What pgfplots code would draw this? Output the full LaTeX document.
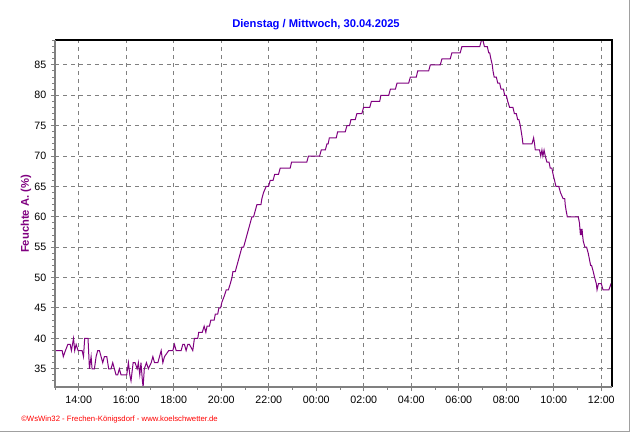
\documentclass[border=0pt]{standalone}
\usepackage{pgfplots}
\pgfplotsset{compat=1.18}
\usepackage{fontspec}
\setmainfont{Liberation Sans}
\definecolor{wspurple}{RGB}{128,0,128}
\definecolor{wsgray}{RGB}{128,128,128}
\definecolor{wsblue}{RGB}{0,0,255}
\definecolor{wsred}{RGB}{255,0,0}
\begin{document}
\begin{tikzpicture}
\path[use as bounding box] (0,0) rectangle (474pt,330pt);
\fill[white] (0,0) rectangle (474pt,330pt);
\begin{axis}[
  at={(41.25pt,39.75pt)}, anchor=south west,
  scale only axis, width=417.75pt, height=260.25pt,
  xmin=13, xmax=36.45, ymin=32, ymax=89.1,
  axis line style={draw=none},
  clip=false,
  xtick={14,16,...,36},
  xticklabels={14:00,16:00,18:00,20:00,22:00,00:00,02:00,04:00,06:00,08:00,10:00,12:00},
  minor xtick={13,15,...,35},
  ytick={35,40,...,85},
  minor ytick={33,34,...,89},
  tick align=outside, tick pos=left,
  major tick length=3pt, minor tick length=2pt,
  every tick/.style={wsgray, line width=0.75pt},
  xmajorgrids, ymajorgrids,
  major grid style={wsgray, line width=0.75pt, dash pattern=on 3pt off 3pt},
  tick label style={font=\fontsize{8}{9.6}\selectfont},
  /pgf/number format/assume math mode=true,
]
\addplot[wspurple, line width=0.75pt] coordinates {
(13.00,38) (13.30,38) (13.35,37) (13.44,38) (13.54,39) (13.64,39) (13.69,38) (13.78,40) (13.83,38) (13.89,39) (13.97,38) (14.06,38) (14.14,38) (14.20,37) (14.25,40) (14.39,40) (14.45,35) (14.52,37) (14.56,35) (14.66,35) (14.73,37) (14.80,38) (14.87,38) (14.94,37) (15.01,36) (15.08,37) (15.18,37) (15.26,35) (15.36,35) (15.43,36) (15.50,35) (15.57,34) (15.64,34) (15.71,35) (15.78,34) (15.92,34) (16.02,34) (16.09,36) (16.15,34) (16.20,33) (16.29,36) (16.37,36) (16.46,35) (16.51,36) (16.57,34) (16.62,36) (16.68,33) (16.71,32) (16.76,35) (16.85,36) (16.93,35) (17.05,36) (17.12,37) (17.19,36) (17.33,36) (17.40,37) (17.47,38) (17.54,36) (17.61,37) (17.79,38) (17.96,38) (18.03,39) (18.10,38) (18.31,38) (18.38,39) (18.45,39) (18.52,38) (18.59,39) (18.66,39) (18.80,38) (18.87,40) (19.01,40)
(19.05,41) (19.20,41) (19.28,42) (19.35,41) (19.40,42) (19.50,42) (19.56,43) (19.70,43) (19.75,44) (19.85,44) (19.90,45) (19.97,45) (20.03,46) (20.13,47) (20.21,48) (20.30,48) (20.38,49) (20.45,50) (20.49,51) (20.59,51) (20.66,52) (20.73,53) (20.80,54) (20.87,55) (20.94,55) (21.01,56) (21.08,57) (21.15,58) (21.22,59) (21.29,60) (21.36,60) (21.43,61) (21.50,62) (21.67,62) (21.71,63) (21.78,64) (21.89,65) (21.99,65) (22.06,66) (22.18,66) (22.25,67) (22.41,67) (22.48,68) (22.90,68) (22.96,69) (23.60,69) (23.67,70)
(24.14,70) (24.21,71) (24.38,71) (24.45,72) (24.50,72) (24.55,73) (24.84,73) (24.90,74) (25.22,74) (25.29,75) (25.40,75) (25.46,76) (25.64,76) (25.71,77) (25.92,77) (25.99,78) (26.25,78) (26.32,79) (26.67,79) (26.72,80) (27.05,80) (27.12,81) (27.33,81) (27.40,82) (27.89,82) (27.96,83) (28.21,83) (28.27,84) (28.73,84) (28.80,85) (29.22,85) (29.29,86) (29.64,86) (29.71,87) (30.06,87) (30.13,88) (30.88,88) (30.95,89) (31.02,89) (31.08,88)
(31.20,88) (31.26,87) (31.30,87) (31.35,86) (31.41,85) (31.44,84) (31.49,83) (31.58,83) (31.64,82) (31.72,82) (31.78,81) (31.88,81) (31.93,80) (32.00,80) (32.06,79) (32.14,78) (32.28,78) (32.34,77) (32.42,77) (32.48,76) (32.53,76) (32.59,75) (32.63,74) (32.67,73) (32.70,72) (33.08,72) (33.15,73) (33.19,72) (33.22,71) (33.40,71) (33.45,70) (33.50,71) (33.54,70) (33.59,71) (33.64,70) (33.71,69) (33.80,69) (33.85,68) (33.92,68) (33.97,67) (34.03,66) (34.09,65) (34.21,65) (34.28,64) (34.39,63) (34.46,63) (34.48,62) (34.52,61) (34.57,60) (35.03,60) (35.08,59) (35.12,57) (35.14,58) (35.16,57) (35.19,58) (35.21,57) (35.24,56) (35.31,55) (35.38,55) (35.45,54) (35.50,53) (35.55,52) (35.59,52) (35.66,51) (35.72,50) (35.79,49) (35.82,48) (35.88,49) (36.00,49) (36.07,48) (36.32,48) (36.41,49) (36.45,49)
};
\draw[black, line width=1.1pt] (rel axis cs:0,1) -- (rel axis cs:1,1) -- (rel axis cs:1,0);
\draw[wsgray, line width=1.6pt] (rel axis cs:0,1) -- (rel axis cs:0,0) -- (rel axis cs:1,0);
\end{axis}
\node[text=wsblue, font=\bfseries\fontsize{8.4}{10}\selectfont] at (237pt,311.25pt) {Dienstag / Mittwoch, 30.04.2025};
\node[text=wspurple, font=\bfseries\fontsize{8.4}{10}\selectfont, rotate=90] at (19.5pt,169.5pt) {Feuchte A. (\%)};
\node[text=wsred, font=\fontsize{5.8}{7}\selectfont, anchor=west, inner sep=0pt] at (15.75pt,15.75pt) {©WsWin32 - Frechen-Königsdorf - www.koelschwetter.de};
\draw[color={rgb,255:red,160;green,160;blue,160}, line width=0.75pt] (0,6.75pt) -- (471.75pt,6.75pt) -- (471.75pt,330pt);
\end{tikzpicture}
\end{document}
